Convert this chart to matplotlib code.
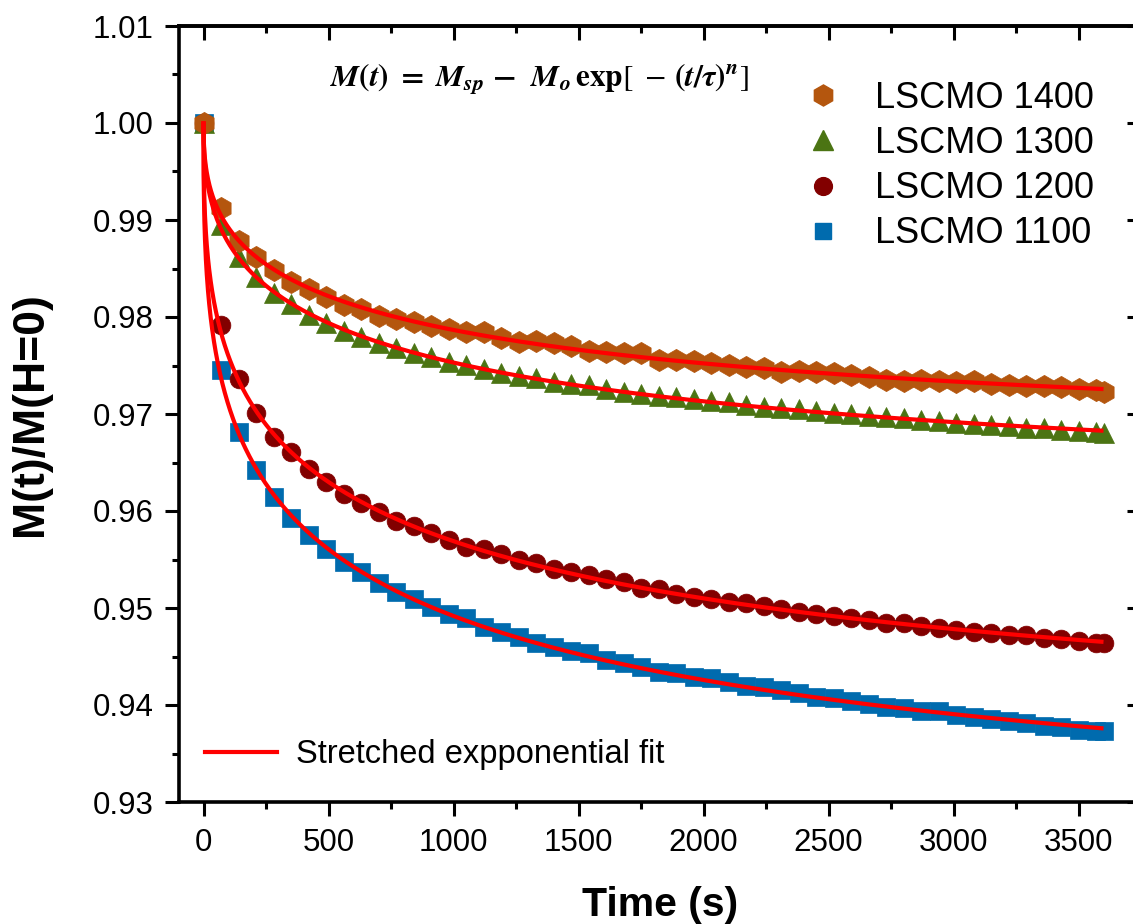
import numpy as np
import matplotlib
matplotlib.use("Agg")
import matplotlib.pyplot as plt
from matplotlib.ticker import MultipleLocator, FormatStrFormatter
from matplotlib.lines import Line2D

plt.rcParams["font.family"] = ["Liberation Sans", "DejaVu Sans"]
plt.rcParams["mathtext.fontset"] = "stix"

# ---- measured relaxation data: normalised magnetisation vs time ----
time_s = [0, 70, 140, 210, 280, 350, 420, 490, 560, 630, 700, 770, 840, 910,
          980, 1050, 1120, 1190, 1260, 1330, 1400, 1470, 1540, 1610, 1680,
          1750, 1820, 1890, 1960, 2030, 2100, 2170, 2240, 2310, 2380, 2450,
          2520, 2590, 2660, 2730, 2800, 2870, 2940, 3010, 3080, 3150, 3220,
          3290, 3360, 3430, 3500, 3570, 3600]

m_1400 = [1.0000, 0.99121, 0.98787, 0.98615, 0.98485, 0.98364, 0.98285,
          0.98203, 0.98124, 0.98082, 0.98013, 0.97979, 0.97945, 0.97910,
          0.97880, 0.97848, 0.97842, 0.97787, 0.97746, 0.97756, 0.97729,
          0.97701, 0.97649, 0.97642, 0.97632, 0.97626, 0.97557, 0.97557,
          0.97546, 0.97522, 0.97502, 0.97488, 0.97477, 0.97435, 0.97447,
          0.97430, 0.97419, 0.97399, 0.97385, 0.97351, 0.97343, 0.97347,
          0.97337, 0.97330, 0.97337, 0.97313, 0.97302, 0.97289, 0.97289,
          0.97278, 0.97261, 0.97247, 0.97230]

m_1300 = [1.0000, 0.98948, 0.98615, 0.98416, 0.98244, 0.98133, 0.98021,
          0.97940, 0.97860, 0.97790, 0.97735, 0.97677, 0.97626, 0.97591,
          0.97536, 0.97505, 0.97464, 0.97423, 0.97389, 0.97371, 0.97333,
          0.97309, 0.97299, 0.97258, 0.97230, 0.97206, 0.97182, 0.97172,
          0.97155, 0.97137, 0.97120, 0.97093, 0.97075, 0.97059, 0.97052,
          0.97028, 0.97010, 0.97000, 0.96983, 0.96969, 0.96955, 0.96941,
          0.96931, 0.96907, 0.96897, 0.96890, 0.96873, 0.96859, 0.96852,
          0.96838, 0.96828, 0.96818, 0.96807]

m_1200 = [1.0000, 0.97918, 0.97361, 0.97007, 0.96766, 0.96611, 0.96430,
          0.96302, 0.96172, 0.96079, 0.95987, 0.95900, 0.95845, 0.95776,
          0.95705, 0.95632, 0.95605, 0.95554, 0.95495, 0.95461, 0.95399,
          0.95371, 0.95337, 0.95299, 0.95265, 0.95210, 0.95193, 0.95144,
          0.95113, 0.95093, 0.95065, 0.95048, 0.95021, 0.94990, 0.94955,
          0.94938, 0.94918, 0.94894, 0.94876, 0.94845, 0.94842, 0.94814,
          0.94797, 0.94776, 0.94756, 0.94746, 0.94722, 0.94718, 0.94688,
          0.94677, 0.94657, 0.94636, 0.94636]

m_1100 = [1.0000, 0.97454, 0.96811, 0.96423, 0.96141, 0.95925, 0.95753,
          0.95608, 0.95471, 0.95368, 0.95254, 0.95162, 0.95093, 0.95007,
          0.94942, 0.94894, 0.94801, 0.94749, 0.94704, 0.94642, 0.94601,
          0.94557, 0.94533, 0.94464, 0.94430, 0.94389, 0.94344, 0.94327,
          0.94286, 0.94275, 0.94234, 0.94199, 0.94182, 0.94155, 0.94120,
          0.94079, 0.94069, 0.94041, 0.94007, 0.93976, 0.93969, 0.93941,
          0.93938, 0.93897, 0.93873, 0.93853, 0.93835, 0.93811, 0.93787,
          0.93770, 0.93742, 0.93735, 0.93735]

series_labels = ["LSCMO 1400", "LSCMO 1300", "LSCMO 1200", "LSCMO 1100"]
series_values = [m_1400, m_1300, m_1200, m_1100]
series_markers = ["h", "^", "o", "s"]
series_sizes = [16, 15, 13.5, 12.5]
series_colors = ["#B4560E", "#4B7413", "#820000", "#006BAE"]

x_ticks = [0, 500, 1000, 1500, 2000, 2500, 3000, 3500]
y_ticks = [0.93, 0.94, 0.95, 0.96, 0.97, 0.98, 0.99, 1.00, 1.01]

fit_label = "Stretched expponential fit"
equation = (r"$\mathbfit{M}\mathbf{(}\mathbfit{t}\mathbf{)}\ \mathbf{=}\ "
            r"\mathbfit{M}_{\mathbfit{sp}}\ \mathbf{-}\ \ "
            r"\mathbfit{M}_{\mathbfit{o}}\,\mathbf{exp}[\ -\,"
            r"\mathbf{(}\mathbfit{t}\mathbf{/}\mathbfit{\tau}\mathbf{)}"
            r"^{\mathbfit{n}}]$")


def stretched_exp_fit(t, y):
    """Least-squares fit of y = Msp - Mo*exp(-(t/tau)^n) via grid search."""
    t = np.asarray(t, float)
    y = np.asarray(y, float)
    best = None
    taus = np.logspace(0, 7, 351)
    for n in np.arange(0.10, 1.001, 0.005):
        b = np.exp(-(t[None, :] / taus[:, None]) ** n)
        bm = b.mean(axis=1, keepdims=True)
        ym = y.mean()
        cov = ((b - bm) * (y - ym)).sum(axis=1)
        var = ((b - bm) ** 2).sum(axis=1)
        slope = cov / np.where(var > 0, var, np.inf)
        icpt = ym - slope * bm[:, 0]
        sse = ((icpt[:, None] + slope[:, None] * b - y) ** 2).sum(axis=1)
        i = int(np.argmin(sse))
        if best is None or sse[i] < best[0]:
            best = (sse[i], icpt[i], -slope[i], taus[i], n)
    _, msp, mo, tau, n = best
    return msp, mo, tau, n


W, H = 1133, 924
fig = plt.figure(figsize=(W / 100, H / 100), dpi=100)


def px_rect(x0, y0, x1, y1):
    return [x0 / W, 1 - y1 / H, (x1 - x0) / W, (y1 - y0) / H]


ax = fig.add_axes(px_rect(178.5, 26, 1141, 802))
ax.set_xlim(-100, 3750)
ax.set_ylim(0.93, 1.01)

# markers: draw lowest series first so the upper ones sit on top at t = 0
handles = []
for lab, vals, mk, ms, col in zip(series_labels, series_values,
                                  series_markers, series_sizes, series_colors):
    handles.append(Line2D([], [], ls="none", marker=mk, ms=ms * 0.95,
                          color=col, mec=col, label=lab))
for k in range(len(series_values) - 1, -1, -1):
    ax.plot(time_s, series_values[k], ls="none", marker=series_markers[k],
            ms=series_sizes[k], color=series_colors[k],
            mec=series_colors[k], mew=0.5, zorder=3 + (3 - k))

t_dense = np.linspace(0, 3600, 3000)
for vals in series_values:
    msp, mo, tau, n = stretched_exp_fit(time_s, vals)
    ax.plot(t_dense, msp - mo * np.exp(-(t_dense / tau) ** n),
            color="#FF0000", lw=3.0, zorder=10, solid_capstyle="butt")

# axes styling
for sp in ax.spines.values():
    sp.set_linewidth(2.6)
ax.set_xticks(x_ticks)
ax.set_yticks(y_ticks)
ax.xaxis.set_minor_locator(MultipleLocator(250))
ax.yaxis.set_minor_locator(MultipleLocator(0.005))
ax.yaxis.set_major_formatter(FormatStrFormatter("%.2f"))
ax.tick_params(which="both", direction="out", width=2.2, labelsize=22.5,
               colors="black")
ax.tick_params(which="major", length=10)
ax.tick_params(which="minor", length=5)
ax.tick_params(axis="x", pad=9)
ax.tick_params(axis="y", pad=8)

top = ax.secondary_xaxis("top")
top.set_xticks(x_ticks)
top.xaxis.set_minor_locator(MultipleLocator(250))
top.tick_params(which="both", direction="in", width=2.2, labeltop=False)
top.tick_params(which="major", length=10)
top.tick_params(which="minor", length=5)
top.spines["top"].set_linewidth(2.6)

right = ax.secondary_yaxis("right")
right.set_yticks(y_ticks)
right.yaxis.set_minor_locator(MultipleLocator(0.005))
right.tick_params(which="both", direction="in", width=2.2, labelright=False)
right.tick_params(which="major", length=10)
right.tick_params(which="minor", length=5)
right.spines["right"].set_linewidth(2.6)

ax.set_xlabel("Time (s)", fontsize=29.5, fontweight="bold", labelpad=20)
ax.set_ylabel("M(t)/M(H=0)", fontsize=32, fontweight="bold", labelpad=30)

# legends
leg1 = ax.legend(handles=handles, loc="upper left", frameon=False,
                 bbox_to_anchor=(787 / W, 1 - 81 / H),
                 bbox_transform=fig.transFigure, fontsize=26,
                 handlelength=2.0, handletextpad=0.45, labelspacing=0.28,
                 borderpad=0, borderaxespad=0)
ax.add_artist(leg1)
fit_handle = Line2D([], [], color="#FF0000", lw=3.0)
ax.legend(handles=[fit_handle], labels=[fit_label], loc="center left",
          frameon=False, bbox_to_anchor=(205 / W, 1 - 755 / H),
          bbox_transform=fig.transFigure, fontsize=23.5, handlelength=2.2,
          handletextpad=0.6, borderpad=0, borderaxespad=0)

fig.text(330 / W, 1 - 80 / H, equation, fontsize=22.5, ha="left", va="center")

fig.savefig("out.png", dpi=100)
